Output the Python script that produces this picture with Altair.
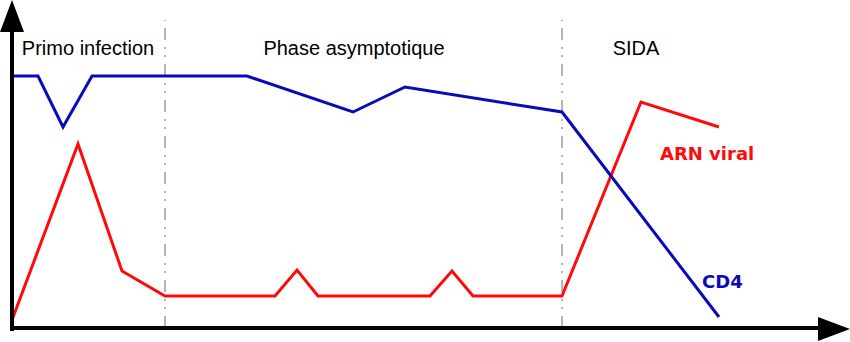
import altair as alt
import pandas as pd

# CD4 curve (time units, level units)
cd4_t = [12, 38, 63, 92, 247, 353, 405, 562, 719]
cd4_v = [266, 266, 215, 266, 266, 230, 255, 230, 25]

# ARN viral curve
arn_t = [12, 78, 122, 165, 275, 297, 318, 430, 452, 473, 562, 641, 719]
arn_v = [22, 198, 71, 46, 46, 72, 46, 46, 71, 46, 46, 240, 215]

# phase boundaries and phase labels
bound_t = [165, 562]
phase_names = ["Primo infection", "Phase asymptotique", "SIDA"]
phase_t = [88, 354, 636]

BLUE = "#0a0ab8"
RED = "#ff0a0a"

W, H = 850, 342
xs = alt.Scale(domain=[0, W], range=[0, W], nice=False, zero=False)
ys = alt.Scale(domain=[0, H], range=[H, 0], nice=False, zero=False)

cd4 = pd.DataFrame({"t": cd4_t, "v": cd4_v})
arn = pd.DataFrame({"t": arn_t, "v": arn_v})
bounds = pd.DataFrame({"t": bound_t, "y0": [14] * 2, "y1": [322] * 2})
phases = pd.DataFrame({"t": phase_t, "name": phase_names, "v": [287] * 3})

X = lambda f: alt.X(f, scale=xs, axis=None)
Y = lambda f: alt.Y(f, scale=ys, axis=None)

bound_layer = alt.Chart(bounds).mark_rule(
    color="#6a6a6a", strokeWidth=1, strokeDash=[12, 7, 2, 6, 2, 7]
).encode(x=X("t:Q"), y=Y("y0:Q"), y2="y1:Q")

axis_df = pd.DataFrame({"x0": [12, 10], "x1": [12, 822], "y0": [11, 14], "y1": [312, 14]})
axis_layer = alt.Chart(axis_df).mark_rule(color="black", strokeWidth=4).encode(
    x=X("x0:Q"), x2="x1:Q", y=Y("y0:Q"), y2="y1:Q"
)

up = alt.Chart(pd.DataFrame({"x": [12], "y": [326]})).mark_point(
    shape="M-0.75,1 L0,-1 L0.75,1 Z", size=1024, filled=True, color="black", opacity=1
).encode(x=X("x:Q"), y=Y("y:Q"))
right = alt.Chart(pd.DataFrame({"x": [834], "y": [13]})).mark_point(
    shape="M-1,-0.75 L1,0 L-1,0.75 Z", size=1024, filled=True, color="black", opacity=1
).encode(x=X("x:Q"), y=Y("y:Q"))

arn_line = alt.Chart(arn).mark_line(color=RED, strokeWidth=3).encode(
    x=X("t:Q"), y=Y("v:Q"), order="t:Q"
)
cd4_line = alt.Chart(cd4).mark_line(color=BLUE, strokeWidth=3).encode(
    x=X("t:Q"), y=Y("v:Q"), order="t:Q"
)

phase_text = alt.Chart(phases).mark_text(
    font="Liberation Sans", fontSize=20, color="black", align="center", baseline="alphabetic"
).encode(x=X("t:Q"), y=Y("v:Q"), text="name:N")

arn_label = alt.Chart(pd.DataFrame({"x": [660], "y": [182], "s": ["ARN viral"]})).mark_text(
    font="DejaVu Sans", fontSize=18, fontWeight="bold", color=RED, align="left", baseline="alphabetic"
).encode(x=X("x:Q"), y=Y("y:Q"), text="s:N")
cd4_label = alt.Chart(pd.DataFrame({"x": [702], "y": [54], "s": ["CD4"]})).mark_text(
    font="DejaVu Sans", fontSize=18, fontWeight="bold", color=BLUE, align="left", baseline="alphabetic"
).encode(x=X("x:Q"), y=Y("y:Q"), text="s:N")

chart = alt.layer(
    bound_layer, arn_line, cd4_line, axis_layer, up, right, phase_text, arn_label, cd4_label
).properties(
    width=W, height=H, autosize=alt.AutoSizeParams(type="none"), padding=0, background="white"
).configure_view(stroke=None)

chart.save("out.html", embed_options={"renderer": "svg", "actions": False})
